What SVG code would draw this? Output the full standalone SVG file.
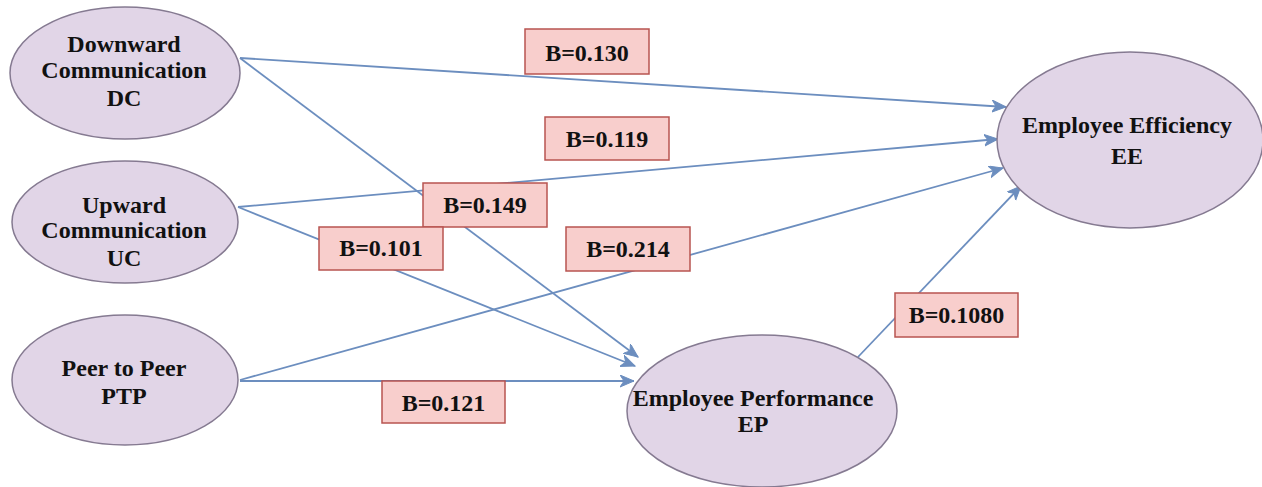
<svg xmlns="http://www.w3.org/2000/svg" width="1262" height="487" viewBox="0 0 1262 487">
<style>
.node ellipse{fill:#e1d5e7;stroke:#857a91;stroke-width:1.5}
.node text{font-family:"Liberation Serif",serif;font-weight:bold;font-size:24px;fill:#111;text-anchor:middle}
.lbl rect{fill:#f8cecc;stroke:#b85450;stroke-width:1.5}
.lbl text{font-family:"Liberation Serif",serif;font-weight:bold;font-size:24px;fill:#111;text-anchor:middle}
#connectors line{stroke:#6c8ebf;stroke-width:1.8;fill:none;marker-end:url(#arr)}
</style>
<defs>
<marker id="arr" markerUnits="userSpaceOnUse" markerWidth="16" markerHeight="14" refX="14" refY="6" orient="auto" viewBox="0 0 16 14">
<path d="M0,0 L14,6 L0,12 L4,6 Z" fill="#6c8ebf" stroke="#6c8ebf" stroke-width="1"/>
</marker>
</defs>
<rect width="1262" height="487" fill="#ffffff"/>
<g id="connectors">
<line x1="240" y1="58" x2="1006" y2="107"/>
<line x1="240" y1="58" x2="638" y2="357"/>
<line x1="238" y1="207" x2="998" y2="139"/>
<line x1="238" y1="207" x2="635" y2="366"/>
<line x1="240" y1="380" x2="1003" y2="168"/>
<line x1="240" y1="381" x2="634" y2="381"/>
<line x1="858" y1="357" x2="1021" y2="186"/>
</g>
<g id="node-dc" class="node">
<ellipse cx="125" cy="73" rx="115" ry="66"/>
<text x="124" y="52">Downward</text>
<text x="124" y="78">Communication</text>
<text x="124" y="106">DC</text>
</g>
<g id="node-uc" class="node">
<ellipse cx="125" cy="222" rx="113" ry="61"/>
<text x="124" y="213">Upward</text>
<text x="124" y="238">Communication</text>
<text x="124" y="266">UC</text>
</g>
<g id="node-ptp" class="node">
<ellipse cx="125" cy="380" rx="113" ry="65"/>
<text x="124" y="376">Peer to Peer</text>
<text x="124" y="404">PTP</text>
</g>
<g id="node-ee" class="node">
<ellipse cx="1130" cy="140" rx="133" ry="88"/>
<text x="1127" y="133">Employee Efficiency</text>
<text x="1127" y="164">EE</text>
</g>
<g id="node-ep" class="node">
<ellipse cx="762" cy="411" rx="135" ry="76"/>
<text x="753" y="406">Employee Performance</text>
<text x="753" y="432">EP</text>
</g>
<g id="label-130" class="lbl"><rect x="525" y="29" width="124" height="45"/><text x="587" y="61">B=0.130</text></g>
<g id="label-119" class="lbl"><rect x="545" y="117" width="124" height="43"/><text x="607" y="147">B=0.119</text></g>
<g id="label-149" class="lbl"><rect x="423" y="183" width="124" height="44"/><text x="485" y="213">B=0.149</text></g>
<g id="label-101" class="lbl"><rect x="319" y="227" width="124" height="43"/><text x="381" y="256">B=0.101</text></g>
<g id="label-214" class="lbl"><rect x="566" y="227" width="124" height="44"/><text x="628" y="257">B=0.214</text></g>
<g id="label-121" class="lbl"><rect x="382" y="381" width="123" height="42"/><text x="443.5" y="411">B=0.121</text></g>
<g id="label-1080" class="lbl"><rect x="895" y="293" width="123" height="44"/><text x="956.5" y="323">B=0.1080</text></g>
</svg>
